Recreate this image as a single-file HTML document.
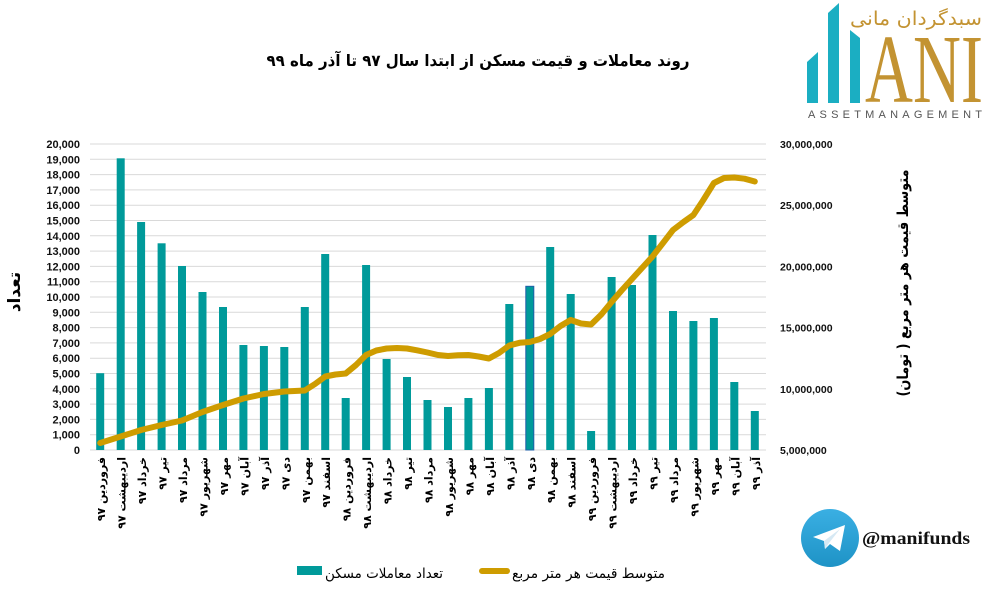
<!DOCTYPE html>
<html><head><meta charset="utf-8"><style>
html,body{margin:0;padding:0;background:#fff;}
svg{display:block;}
.fa{font-family:"DejaVu Sans","Liberation Sans",sans-serif;}
.ln{font-family:"Liberation Sans",sans-serif;}
</style></head><body>
<svg width="989" height="589" viewBox="0 0 989 589" xmlns="http://www.w3.org/2000/svg">
<rect width="989" height="589" fill="#fff"/>
<!-- title -->
<text class="fa" x="478" y="66" text-anchor="middle" font-size="16" font-weight="bold" fill="#000" textLength="423" lengthAdjust="spacingAndGlyphs">روند معاملات و قیمت مسکن از ابتدا سال ۹۷ تا آذر ماه ۹۹</text>

<!-- gridlines -->
<g stroke="#D9D9D9" stroke-width="1">
<line x1="90" x2="766" y1="144" y2="144"/><line x1="90" x2="766" y1="159.3" y2="159.3"/><line x1="90" x2="766" y1="174.6" y2="174.6"/><line x1="90" x2="766" y1="189.9" y2="189.9"/><line x1="90" x2="766" y1="205.2" y2="205.2"/><line x1="90" x2="766" y1="220.5" y2="220.5"/><line x1="90" x2="766" y1="235.8" y2="235.8"/><line x1="90" x2="766" y1="251.1" y2="251.1"/><line x1="90" x2="766" y1="266.4" y2="266.4"/><line x1="90" x2="766" y1="281.7" y2="281.7"/><line x1="90" x2="766" y1="297" y2="297"/><line x1="90" x2="766" y1="312.3" y2="312.3"/><line x1="90" x2="766" y1="327.6" y2="327.6"/><line x1="90" x2="766" y1="342.9" y2="342.9"/><line x1="90" x2="766" y1="358.2" y2="358.2"/><line x1="90" x2="766" y1="373.5" y2="373.5"/><line x1="90" x2="766" y1="388.8" y2="388.8"/><line x1="90" x2="766" y1="404.1" y2="404.1"/><line x1="90" x2="766" y1="419.4" y2="419.4"/><line x1="90" x2="766" y1="434.7" y2="434.7"/><line x1="90" x2="766" y1="450" y2="450"/>
</g>

<!-- left tick labels -->
<g class="ln" font-size="11" font-weight="bold" fill="#111" text-anchor="end">
<text x="80" y="148">20,000</text><text x="80" y="163.3">19,000</text><text x="80" y="178.6">18,000</text><text x="80" y="193.9">17,000</text><text x="80" y="209.2">16,000</text><text x="80" y="224.5">15,000</text><text x="80" y="239.8">14,000</text><text x="80" y="255.1">13,000</text><text x="80" y="270.4">12,000</text><text x="80" y="285.7">11,000</text><text x="80" y="301">10,000</text><text x="80" y="316.3">9,000</text><text x="80" y="331.6">8,000</text><text x="80" y="346.9">7,000</text><text x="80" y="362.2">6,000</text><text x="80" y="377.5">5,000</text><text x="80" y="392.8">4,000</text><text x="80" y="408.1">3,000</text><text x="80" y="423.4">2,000</text><text x="80" y="438.7">1,000</text><text x="80" y="454">0</text>
</g>
<!-- right tick labels -->
<g class="ln" font-size="10.5" font-weight="bold" fill="#111">
<text x="780" y="148">30,000,000</text><text x="780" y="209.2">25,000,000</text><text x="780" y="270.4">20,000,000</text><text x="780" y="331.6">15,000,000</text><text x="780" y="392.8">10,000,000</text><text x="780" y="454">5,000,000</text>
</g>

<!-- axis titles -->
<text class="fa" transform="translate(14,292) rotate(-90)" y="6" text-anchor="middle" font-size="17" font-weight="bold" fill="#000">تعداد</text>
<text class="fa" transform="translate(903,283) rotate(-90)" y="5" text-anchor="middle" font-size="15" font-weight="bold" fill="#000" textLength="227" lengthAdjust="spacingAndGlyphs">متوسط قیمت هر متر مربع ( تومان)</text>

<!-- bars -->
<g fill="#009A9A">
<rect x="96.2" y="373.2" width="8" height="76.8"/>
<rect x="116.7" y="158.3" width="8" height="291.7"/>
<rect x="137.1" y="222" width="8" height="228"/>
<rect x="157.6" y="243.3" width="8" height="206.7"/>
<rect x="178" y="266" width="8" height="184"/>
<rect x="198.5" y="292" width="8" height="158"/>
<rect x="219" y="307" width="8" height="143"/>
<rect x="239.4" y="345" width="8" height="105"/>
<rect x="259.9" y="346" width="8" height="104"/>
<rect x="280.3" y="347" width="8" height="103"/>
<rect x="300.8" y="307" width="8" height="143"/>
<rect x="321.2" y="254" width="8" height="196"/>
<rect x="341.7" y="398" width="8" height="52"/>
<rect x="362.1" y="265" width="8" height="185"/>
<rect x="382.6" y="359" width="8" height="91"/>
<rect x="403" y="377" width="8" height="73"/>
<rect x="423.5" y="400" width="8" height="50"/>
<rect x="444" y="407" width="8" height="43"/>
<rect x="464.4" y="398" width="8" height="52"/>
<rect x="484.9" y="388" width="8" height="62"/>
<rect x="505.3" y="304" width="8" height="146"/>
<rect x="525.8" y="286.3" width="8" height="163.7" stroke="#1F5FA8" stroke-width="1"/>
<rect x="546.2" y="247" width="8" height="203"/>
<rect x="566.7" y="294" width="8" height="156"/>
<rect x="587.1" y="431" width="8" height="19"/>
<rect x="607.6" y="277" width="8" height="173"/>
<rect x="628" y="285" width="8" height="165"/>
<rect x="648.5" y="235" width="8" height="215"/>
<rect x="669" y="311" width="8" height="139"/>
<rect x="689.4" y="321" width="8" height="129"/>
<rect x="709.9" y="318" width="8" height="132"/>
<rect x="730.3" y="382" width="8" height="68"/>
<rect x="750.8" y="411" width="8" height="39"/>
</g>

<!-- price line -->
<polyline fill="none" stroke="#CE9C00" stroke-width="6" stroke-linejoin="round" stroke-linecap="round" points="100.2,443 120.7,436.5 141.1,430 161.6,425 182,420.5 202.5,412 223,405 243.4,398.5 263.9,394 284.3,391.5 304.8,390.5 315,384 325.2,376.5 335.5,374.5 345.7,373.5 356,365 366.1,355 376.3,350.5 386.6,348.5 397,348 407,348.5 417,350.3 427.5,352.5 438,355 448,356 458,355.2 468.4,355 478.6,356.5 488.9,358.5 499,353 509.3,345.5 519.5,342.8 529.8,342 540,339 550.2,334 560.5,326 570.7,320 581,323.5 591.1,324.5 601.3,314.5 611.6,302 622,290 632,279 642,268 652.5,256.5 663,243 673,230 683.5,222 693.4,215 703,200.5 713.9,183 724,178 734.3,177.5 744.5,178.7 754.8,181.5"/>

<!-- x labels -->
<g class="fa" font-size="11" font-weight="bold" fill="#000" text-anchor="end">
<text transform="translate(100.2,457) rotate(-90)" y="5">فروردین ۹۷</text>
<text transform="translate(120.7,457) rotate(-90)" y="5">اردیبهشت ۹۷</text>
<text transform="translate(141.1,457) rotate(-90)" y="5">خرداد ۹۷</text>
<text transform="translate(161.6,457) rotate(-90)" y="5">تیر ۹۷</text>
<text transform="translate(182,457) rotate(-90)" y="5">مرداد ۹۷</text>
<text transform="translate(202.5,457) rotate(-90)" y="5">شهریور ۹۷</text>
<text transform="translate(223,457) rotate(-90)" y="5">مهر ۹۷</text>
<text transform="translate(243.4,457) rotate(-90)" y="5">آبان ۹۷</text>
<text transform="translate(263.9,457) rotate(-90)" y="5">آذر ۹۷</text>
<text transform="translate(284.3,457) rotate(-90)" y="5">دی ۹۷</text>
<text transform="translate(304.8,457) rotate(-90)" y="5">بهمن ۹۷</text>
<text transform="translate(325.2,457) rotate(-90)" y="5">اسفند ۹۷</text>
<text transform="translate(345.7,457) rotate(-90)" y="5">فروردین ۹۸</text>
<text transform="translate(366.1,457) rotate(-90)" y="5">اردیبهشت ۹۸</text>
<text transform="translate(386.6,457) rotate(-90)" y="5">خرداد ۹۸</text>
<text transform="translate(407,457) rotate(-90)" y="5">تیر ۹۸</text>
<text transform="translate(427.5,457) rotate(-90)" y="5">مرداد ۹۸</text>
<text transform="translate(448,457) rotate(-90)" y="5">شهریور ۹۸</text>
<text transform="translate(468.4,457) rotate(-90)" y="5">مهر ۹۸</text>
<text transform="translate(488.9,457) rotate(-90)" y="5">آبان ۹۸</text>
<text transform="translate(509.3,457) rotate(-90)" y="5">آذر ۹۸</text>
<text transform="translate(529.8,457) rotate(-90)" y="5">دی ۹۸</text>
<text transform="translate(550.2,457) rotate(-90)" y="5">بهمن ۹۸</text>
<text transform="translate(570.7,457) rotate(-90)" y="5">اسفند ۹۸</text>
<text transform="translate(591.1,457) rotate(-90)" y="5">فروردین ۹۹</text>
<text transform="translate(611.6,457) rotate(-90)" y="5">اردیبهشت ۹۹</text>
<text transform="translate(632,457) rotate(-90)" y="5">خرداد ۹۹</text>
<text transform="translate(652.5,457) rotate(-90)" y="5">تیر ۹۹</text>
<text transform="translate(673,457) rotate(-90)" y="5">مرداد ۹۹</text>
<text transform="translate(693.4,457) rotate(-90)" y="5">شهریور ۹۹</text>
<text transform="translate(713.9,457) rotate(-90)" y="5">مهر ۹۹</text>
<text transform="translate(734.3,457) rotate(-90)" y="5">آبان ۹۹</text>
<text transform="translate(754.8,457) rotate(-90)" y="5">آذر ۹۹</text>
</g>

<!-- legend -->
<rect x="297" y="566" width="25" height="9" fill="#009A9A"/>
<text class="fa" x="325" y="578" font-size="14" fill="#000" textLength="118" lengthAdjust="spacingAndGlyphs">تعداد معاملات مسکن</text>
<line x1="482" y1="571" x2="507" y2="571" stroke="#CE9C00" stroke-width="6" stroke-linecap="round"/>
<text class="fa" x="512" y="578" font-size="14" fill="#000" textLength="153" lengthAdjust="spacingAndGlyphs">متوسط قیمت هر متر مربع</text>

<!-- logo -->
<g fill="#1BAEC2">
<polygon points="807,62 818,52 818,103 807,103"/>
<polygon points="828,13 839,3 839,103 828,103"/>
<polygon points="850,30 860,38 860,103 850,103"/>
</g>
<text class="fa" x="850" y="25" font-size="19" fill="#C39332" textLength="132" lengthAdjust="spacingAndGlyphs">سبدگردان مانی</text>
<text x="865" y="102" font-family="'Liberation Serif',serif" font-size="98" fill="#C39332" textLength="118" lengthAdjust="spacingAndGlyphs">ANI</text>
<text class="ln" x="808" y="118" font-size="11" fill="#555" textLength="174" lengthAdjust="spacing">ASSETMANAGEMENT</text>

<!-- telegram -->
<defs><linearGradient id="tg" x1="0" y1="0" x2="0" y2="1"><stop offset="0" stop-color="#3AAFE3"/><stop offset="1" stop-color="#1E93C6"/></linearGradient></defs>
<circle cx="830" cy="538" r="29" fill="url(#tg)"/>
<polygon points="813,537 845,525 840,551 830,544 825,549 824,541" fill="#fff"/>
<polygon points="824,541 840,529 829,543 825,549" fill="#D6E9F4"/>
<text x="862" y="544" font-family="'Liberation Serif',serif" font-weight="bold" font-size="18" fill="#111" textLength="108" lengthAdjust="spacingAndGlyphs">@manifunds</text>
</svg>
</body></html>
